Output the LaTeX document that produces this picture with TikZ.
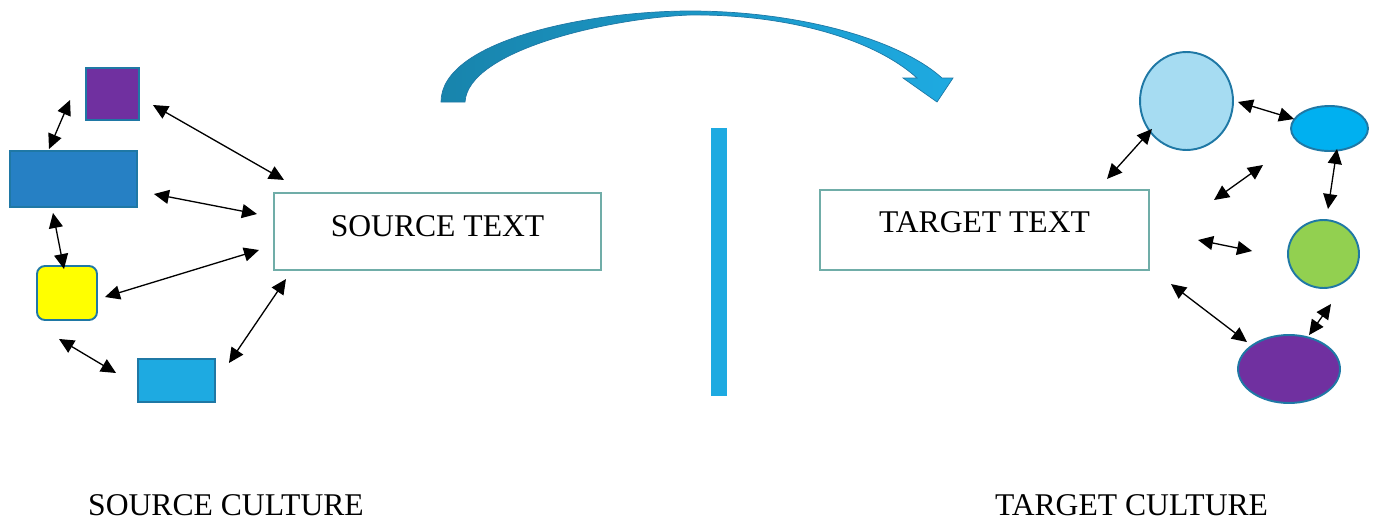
\documentclass[tikz,border=0pt]{standalone}
\usepackage{fontspec}
\setmainfont{Liberation Serif}
\usepackage{xcolor}
\usetikzlibrary{arrows.meta,shapes.geometric}

\definecolor{edgeblue}{RGB}{31,120,165}
\definecolor{boxteal}{RGB}{112,173,168}
\definecolor{sqpurple}{RGB}{112,48,160}
\definecolor{midblue}{RGB}{38,128,196}
\definecolor{skyblue}{RGB}{30,170,225}
\definecolor{paleblue}{RGB}{166,220,242}
\definecolor{brightblue}{RGB}{0,176,240}
\definecolor{leafgreen}{RGB}{146,208,80}
\definecolor{lemon}{RGB}{255,255,0}
\definecolor{arcdark}{RGB}{24,132,172}

\begin{document}
\begin{tikzpicture}[x=0.02cm, y=-0.02cm,
  blob/.style={draw=edgeblue, line width=1.1pt, inner sep=0pt},
  textbox/.style={draw=boxteal, line width=1.2pt, rectangle, inner sep=0pt,
    font=\fontsize{18}{21}\selectfont},
  link/.style={{Triangle[length=0.3cm,width=0.28cm]}-{Triangle[length=0.3cm,width=0.28cm]},
    line width=0.75pt},
  caption/.style={font=\fontsize{18}{21}\selectfont}]
  \useasboundingbox (0,0) rectangle (1379,521);

  % source side
  \node[blob, rectangle, fill=sqpurple, minimum width=1.06cm, minimum height=1.04cm] (purple) at (112.5,94) {};
  \node[blob, rectangle, fill=midblue, minimum width=2.54cm, minimum height=1.12cm] (bluebox) at (73.5,179) {};
  \node[blob, rectangle, rounded corners=0.16cm, fill=lemon, minimum width=1.2cm, minimum height=1.08cm] (yellow) at (67,293) {};
  \node[blob, rectangle, fill=skyblue, minimum width=1.54cm, minimum height=0.86cm] (cyanbox) at (176.5,380.5) {};
  \node[textbox, minimum width=6.54cm, minimum height=1.54cm, text depth=0.2cm] (source) at (437.5,231.5) {SOURCE TEXT};

  % target side
  \node[textbox, minimum width=6.58cm, minimum height=1.6cm, text depth=0.32cm] (target) at (984.5,230) {TARGET TEXT};
  \node[blob, ellipse, fill=paleblue, minimum width=1.86cm, minimum height=1.96cm] (palecirc) at (1186.5,101) {};
  \node[blob, ellipse, fill=brightblue, minimum width=1.54cm, minimum height=0.9cm] (blueell) at (1329.5,128.5) {};
  \node[blob, ellipse, fill=leafgreen, minimum width=1.42cm, minimum height=1.36cm] (greencirc) at (1323.5,254) {};
  \node[blob, ellipse, fill=sqpurple, minimum width=2.04cm, minimum height=1.36cm] (purpell) at (1289,369) {};

  % captions
  \node[caption] (srccult) at (226,505) {SOURCE CULTURE};
  \node[caption] (tgtcult) at (1131.5,505) {TARGET CULTURE};

  % divider
  \fill[skyblue] (711,128) rectangle (727,396);

  % curved arrow
  \shadedraw[left color=arcdark, right color=skyblue, draw=edgeblue, line width=0.4pt]
    (441,102) .. controls (441,40) and (590,11) .. (690,11)
    .. controls (800,11) and (900,40) .. (942,78)
    -- (953,78) -- (937,102) -- (903,78) -- (917,78)
    .. controls (875,40) and (790,14) .. (690,15)
    .. controls (610,18) and (468,50) .. (465,102) -- cycle;

  % links on the source side
  \draw[link] ([shift={(-15,6)}]purple.west) -- ([shift={(-24.5,-1)}]bluebox.north);
  \draw[link] ([shift={(13,11)}]purple.east) -- ([shift={(11,-12)}]source.north west);
  \draw[link] ([shift={(16,15)}]bluebox.east) -- ([shift={(-16,-17.5)}]source.west);
  \draw[link] ([shift={(-20.5,5)}]bluebox.south) -- ([shift={(-3,4)}]yellow.north);
  \draw[link] ([shift={(7,4)}]yellow.east) -- ([shift={(-14,18.5)}]source.west);
  \draw[link] ([shift={(-8,18)}]yellow.south) -- ([shift={(-21,-7.5)}]cyanbox.west);
  \draw[link] ([shift={(13,-17.5)}]cyanbox.east) -- ([shift={(13,8)}]source.south west);

  % links on the target side
  \draw[link] ([shift={(-34.5,-22)}]palecirc.south) -- ([shift={(-43,-10)}]target.north east);
  \draw[link] ([shift={(4,1)}]palecirc.east) -- ([shift={(4,-9.5)}]blueell.west);
  \draw[link] ([shift={(113,-65)}]target.east) -- ([shift={(64,-30)}]target.east);
  \draw[link] ([shift={(7.5,-3)}]blueell.south) -- ([shift={(4.5,-10)}]greencirc.north);
  \draw[link] ([shift={(48,10)}]target.east) -- ([shift={(-35,-3)}]greencirc.west);
  \draw[link] ([shift={(21,13)}]target.south east) -- ([shift={(-42,8)}]purpell.north);
  \draw[link] ([shift={(7.5,15)}]greencirc.south) -- ([shift={(20,1)}]purpell.north);
\end{tikzpicture}
\end{document}
